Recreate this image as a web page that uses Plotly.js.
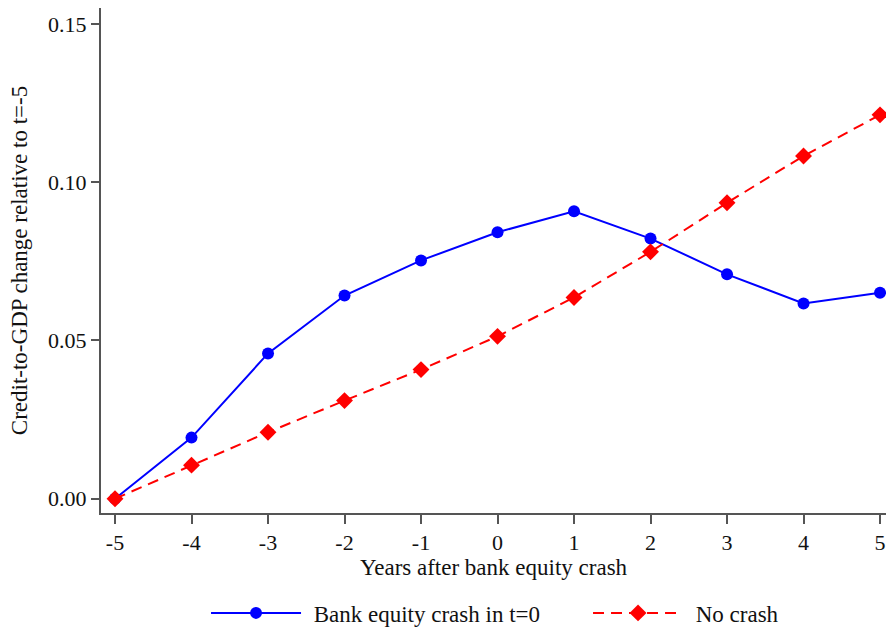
<!DOCTYPE html>
<html><head><meta charset="utf-8">
<script src="https://cdn.plot.ly/plotly-3.0.1.min.js"></script>
<style>html,body{margin:0;padding:0;background:#fff}#chart{width:886px;height:628px}</style>
</head><body><div id="chart"></div>
<script>
const years = [-5,-4,-3,-2,-1,0,1,2,3,4,5];
const crashSeries = [0.0000,0.0193,0.0459,0.0642,0.0753,0.0842,0.0908,0.0822,0.0709,0.0617,0.0651];
const noCrashSeries = [0.0000,0.0106,0.0210,0.0310,0.0408,0.0513,0.0636,0.0780,0.0935,0.1083,0.1213];
const yTicks = [0,0.05,0.10,0.15];
const yTickText = ["0.00","0.05","0.10","0.15"];
const xTicks = years;
const seriesNames = ["Bank equity crash in t=0", "No crash"];

const fam = "Liberation Serif, Times New Roman, serif";
const tickFont = {family:fam, size:22, color:"#111"};
const textFont = {family:fam, size:23, color:"#111"};
const pad = "\u2004";
const traces = [
  {x:years, y:crashSeries, type:"scatter", mode:"lines+markers", name:pad + seriesNames[0],
   line:{color:"#0000ff", width:2}, marker:{symbol:"circle", size:12, color:"#0000ff"}, cliponaxis:false},
  {x:years, y:noCrashSeries, type:"scatter", mode:"lines+markers", name:pad + seriesNames[1],
   line:{color:"#ff0000", width:2, dash:"11px,7px"}, marker:{symbol:"diamond", size:13, color:"#ff0000"}, cliponaxis:false}
];
const layout = {
  width:886, height:628, margin:{l:101, r:0, t:8, b:115, autoexpand:false},
  paper_bgcolor:"#fff", plot_bgcolor:"#fff", font:textFont, showlegend:true,
  xaxis:{range:[-5.183,5.078], tickvals:xTicks, ticktext:xTicks.map(String), showgrid:false, zeroline:false,
    automargin:true, showline:true, linecolor:"#555", linewidth:2, ticks:"outside", ticklen:9, tickcolor:"#555", tickwidth:2,
    tickfont:tickFont, title:{text:"Years after bank equity crash", font:textFont, standoff:4}},
  yaxis:{range:[-0.00452,0.15506], tickvals:yTicks, ticktext:yTickText, showgrid:false, zeroline:false,
    automargin:true, showline:true, linecolor:"#555", linewidth:2, ticks:"outside", ticklen:8, tickcolor:"#555", tickwidth:2,
    tickfont:tickFont, title:{text:"Credit-to-GDP change relative to t=-5", font:textFont, standoff:14}},
  legend:{orientation:"h", x:0.1338, xanchor:"left", yref:"container", y:0.024, yanchor:"middle", font:textFont,
    itemwidth:90, entrywidth:277, entrywidthmode:"pixels", traceorder:"normal", bgcolor:"rgba(0,0,0,0)"}
};
Plotly.newPlot("chart", traces, layout, {displayModeBar:false, staticPlot:true});
</script></body></html>
